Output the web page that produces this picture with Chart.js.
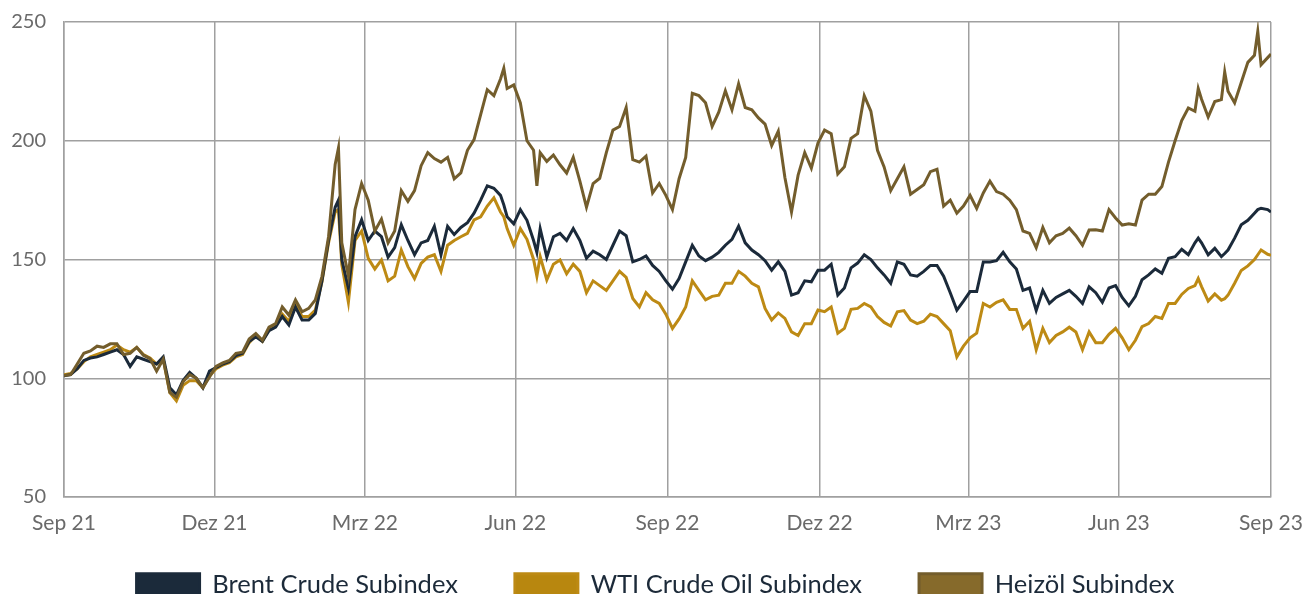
<!DOCTYPE html>
<html>
<head>
<meta charset="utf-8">
<script src="https://cdn.jsdelivr.net/npm/chart.js@4.4.1/dist/chart.umd.min.js"></script>
<style>
  html, body { margin: 0; padding: 0; background: #ffffff; }
  #wrap { width: 1306px; height: 594px; position: relative; }
</style>
</head>
<body>
<div id="wrap"><canvas id="c" width="1306" height="594"></canvas></div>
<script>
// Days since 1 Sep 2021
const days = [
  0,4,8,12,16,20,24,28,32,36,40,44,48,52,56,60,64,68,72,76,80,84,88,
  92,96,100,104,108,112,116,120,124,128,132,136,140,144,148,152,156,160,164,166,168,172,176,180,
  184,188,192,196,200,204,208,212,216,220,224,228,232,236,240,244,248,252,256,260,264,266,268,272,
  276,280,284,286,288,292,296,300,304,308,312,316,320,324,328,332,336,340,344,348,352,356,360,364,
  368,372,376,380,384,388,392,396,400,404,408,412,416,420,424,428,432,436,440,444,448,452,456,
  460,464,468,472,476,480,484,488,492,496,500,504,508,512,516,520,524,528,532,536,540,544,548,
  552,556,560,564,568,572,576,580,584,588,592,596,600,604,608,612,616,620,624,628,632,636,640,
  644,648,652,656,660,664,668,672,676,680,684,686,688,692,696,700,702,704,708,712,716,720,722,724,728,730
];

const brent = [
  101,101.5,104,107.5,108.5,109,110,111,112,110,105,109,108,107,106,109,96,93,99,102.5,100,96,103,
  104.5,106,107,109.5,110.5,115.5,117.5,115.5,120,121.5,126,122.4,130,124.5,124.5,127.3,141,158,172,175,150,138,159.6,166.7,
  158,162,159.6,151,155,164.6,158,152,157,158,164,152,164,160.5,163.5,165.5,169.5,175,181,180,177,173,168,165,
  171,166.5,158,153,163,151,159.6,161,158,163,158,150.5,153.5,152,150,156,162,160,149,150,151.5,147.5,145,141,
  137.5,142,149,156,151.5,149.5,151,153,156,158.5,164,157,154,152,149.5,145.5,149,145,135,136,141,140.6,145.5,
  145.5,148,135,138,146.5,148.5,152,150,146.5,143.5,140,149,148,143.5,143,145,147.5,147.5,143,136,128.7,132.5,136.5,
  136.5,149,149,149.5,153,149,146,137,138,128.5,137,131.5,134,135.5,137,134.5,131.5,138.5,136,132,138,139,134,
  130.5,134.5,141.5,143.5,146,144.2,150.5,151.2,154.3,152,157,159,157,152,154.7,151.2,152.5,154,159,164.6,166.5,169.5,171,171.6,171,170
];

const wti = [
  101.5,102,104,107,109,110,111,112,114,112,111,113,110,108.5,106,108,94,90.5,97,99,99,96,101,
  104,105.5,106.5,109,110,115,118,115.5,120.5,122,127,124,131,126,126,128.7,140.5,157,170,171,148,132,158,162,
  150.5,146,149.8,141,143,154,147,142,148.4,151,152,145,156,158,159.6,161,166.7,168,172.5,176,170,168,163,156,
  163,158.5,150,143,151.2,141.4,148,149.8,144,148,145,136,141,139,137,141,145,142.5,133.6,130,136,133,131.5,127,
  121,125,130,141,137,133,134.5,135,140,140,145,143,140,138.5,129.4,124.5,127.5,125.2,119.5,118,123,123,128.7,
  128,130,119,121,129,129.4,131.5,130,126,123.5,122,128,128.5,124.5,123,124,127,126,123,120,109,113.5,117,
  119,131.5,130,132,133,129,129,121,124,112,121,115,118,119.5,121.5,119.5,112,119.5,115,115,118.5,121,117,
  112,116,121.7,123,126,125.2,131.5,131.5,135.3,137.8,139,142,138.6,132.5,135.5,132.9,133.5,135,140,145.4,147.3,150,152,154,152.2,151.8
];

const heizoel = [
  101.2,101.5,106,110.5,111.5,113.5,113,114.5,114.5,110,110.5,113,109.7,108.3,103,108,94,92,98.5,101.5,100,96,100.5,
  105,106.5,107.5,110.5,111,116.5,118.8,116,121.5,123,130,126.6,133,128,129.4,133,142.8,159.6,190,197,157,143,171,182,
  175,162,167,157,162,179,174.5,179,189.5,195,192.5,191,193,184,186.5,196,200.5,211,221.5,219,226,230.5,222,223.5,
  215.9,200,196,181,195,191.3,194,189.9,186.4,193,183,172,182,184.2,195,204.5,206,214,192,191,193.5,178,182,177,
  171,184,193,220,219,216,206,212,221,213,224,214,213,209.6,207,198,204,184.5,170,185.5,195,188.5,199,
  204.5,203,186,189,201,203,219,212.5,196,189,179,184,189,177.5,179.5,181.5,187,188,172.5,175,169.5,172.5,177,
  171.5,178,183,178.6,177.5,175,171,162,161,155,163.5,157,160,161,163.2,160,156,162.4,162.5,162,171,167.5,164.5,
  165,164.5,175,177.5,177.5,180.7,191,200,208.5,213.8,212.4,222,217.5,210,216.5,217.3,229,220.8,216,224.5,233,236,246,232,235,236.5
];

const tickDays = [0, 91, 182, 273, 365, 457, 547, 638, 730];
const tickLabels = ['Sep 21', 'Dez 21', 'Mrz 22', 'Jun 22', 'Sep 22', 'Dez 22', 'Mrz 23', 'Jun 23', 'Sep 23'];
const seriesNames = ['Brent Crude Subindex', 'WTI Crude Oil Subindex', 'Heizöl Subindex'];

const toXY = (arr) => arr.map((v, i) => ({ x: days[i], y: v }));

Chart.defaults.font.family = 'Lato';
const gridColor = '#a0a0a0';

// move the legend row so it sits just above the bottom edge, centred like the original
const legendShift = {
  id: 'legendShift',
  afterLayout(chart) {
    const l = chart.legend;
    if (l) { l.top -= 22; l.bottom -= 22; l.left += 20; l.right += 20; }
  }
};

new Chart(document.getElementById('c'), {
  type: 'line',
  data: {
    datasets: [
      { label: seriesNames[0], data: toXY(brent), borderColor: '#1b2a3a', backgroundColor: '#1b2a3a', borderWidth: 3, pointRadius: 0, order: 1 },
      { label: seriesNames[1], data: toXY(wti), borderColor: '#bd8a14', backgroundColor: '#b8870f', borderWidth: 3, pointRadius: 0, order: 2 },
      { label: seriesNames[2], data: toXY(heizoel), borderColor: '#735d2c', backgroundColor: '#866a2b', borderWidth: 3, pointRadius: 0, order: 0 }
    ]
  },
  plugins: [legendShift],
  options: {
    responsive: false,
    animation: false,
    events: [],
    layout: { padding: { top: 22, right: 35, bottom: -35.5, left: 0 } },
    elements: { line: { tension: 0, borderJoinStyle: 'miter' } },
    plugins: {
      tooltip: { enabled: false },
      legend: {
        position: 'bottom',
        labels: {
          boxWidth: 63,
          boxHeight: 22,
          padding: 57,
          color: '#1c2a39',
          font: { size: 25.5, family: 'Lato' },
          sort: (a, b) => a.datasetIndex - b.datasetIndex
        }
      }
    },
    scales: {
      x: {
        type: 'linear',
        min: 0,
        max: 730,
        afterBuildTicks: (scale) => { scale.ticks = tickDays.map(v => ({ value: v })); },
        afterFit: (scale) => { scale.height = 40; scale.paddingLeft = 0; scale.paddingRight = 0; },
        grid: { color: gridColor, lineWidth: 1.5, drawTicks: false },
        border: { color: gridColor, width: 1.5 },
        ticks: {
          padding: 14,
          color: '#6a6a6a',
          font: { size: 21 },
          maxRotation: 0,
          autoSkip: false,
          callback: (v) => { const i = tickDays.indexOf(v); return i >= 0 ? tickLabels[i] : ''; }
        }
      },
      y: {
        min: 50,
        max: 250,
        afterFit: (scale) => { scale.width = 64; scale.paddingTop = 0; scale.paddingBottom = 0; },
        grid: { color: gridColor, lineWidth: 1.5, drawTicks: false },
        border: { color: gridColor, width: 1.5 },
        ticks: {
          stepSize: 50,
          padding: 18,
          color: '#6a6a6a',
          font: { size: 20 }
        }
      }
    }
  }
});
</script>
</body>
</html>
